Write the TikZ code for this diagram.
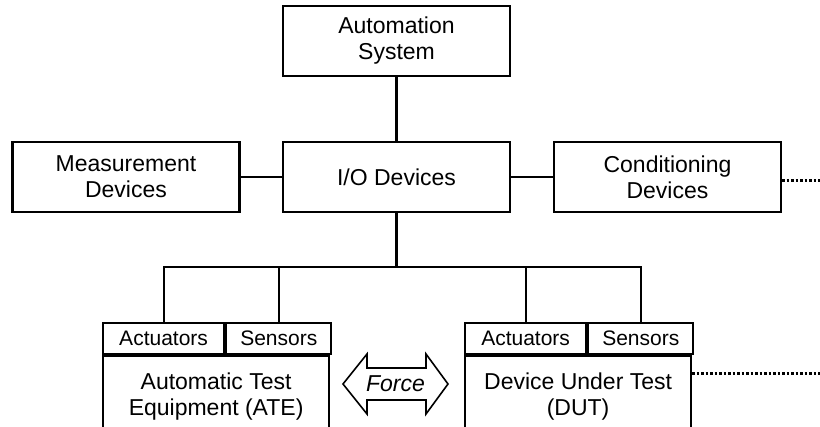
\documentclass[tikz,border=0pt]{standalone}
\usepackage{fontspec}
\setmainfont{Liberation Sans}
\usetikzlibrary{calc}
\tikzset{blk/.style={draw, line width=2.2pt, minimum width=227pt, minimum height=70pt, inner sep=0pt, align=center, font=\fontsize{23}{26}\selectfont},
  cell/.style={draw, line width=2.2pt, minimum height=31pt, inner sep=0pt, font=\fontsize{21}{24}\selectfont},
  wire/.style={line width=2.2pt},
  more/.style={line width=3pt, dash pattern=on 2.5pt off 2pt}}

\begin{document}
\begin{tikzpicture}[x=1pt, y=-1pt]
  \clip (0,0) rectangle (820,427);
  % top row
  \node[blk] (auto) at (396.5,41) {Automation\\System};
  \node[blk] (io) at (396.5,177) {I/O Devices};
  \node[blk] (meas) at (126,177) {Measurement\\Devices};
  \node[blk] (cond) at (667.5,177) {Conditioning\\Devices};
  \draw[wire] (auto) -- (io);
  \draw[wire] (meas) -- (io);
  \draw[wire] (io) -- (cond);
  \coordinate (more1) at (820,181);
  \draw[more] (cond.east |- more1) -- (more1);
  % test stations
  \foreach \n/\x/\t in {ate/102/{Automatic Test\\Equipment (ATE)}, dut/464/{Device Under Test\\(DUT)}} {
    \node[cell, minimum width=121pt, anchor=north west] (\n-act) at (\x,322) {Actuators};
    \node[cell, minimum width=105pt, anchor=north west] (\n-sen) at (\n-act.north east) {Sensors};
    \node[blk, minimum width=226pt, minimum height=80pt, anchor=north west] (\n) at (\n-act.south west) {\t};
  }
  % bus
  \coordinate (bus) at (396.5,267);
  \draw[wire] (io) -- (bus);
  \draw[wire] (ate-act.north) |- (bus) -| (dut-sen.north);
  \draw[wire] (ate-sen.north) -- (ate-sen.north |- bus);
  \draw[wire] (dut-act.north) -- (dut-act.north |- bus);
  \coordinate (more2) at (820,374);
  \draw[more] (dut.east |- more2) -- (more2);
  % force arrow
  \node[inner sep=0pt, font=\fontsize{23}{26}\selectfont\itshape] (force) at (395.5,384) {Force};
  \draw[line width=1.6pt] (force) ++(-52.5,0) -- ++(24,-30) -- ++(0,14) -- ++(59,0) -- ++(0,-14) -- ++(22,30)
    -- ++(-22,30) -- ++(0,-14) -- ++(-59,0) -- ++(0,14) -- cycle;
\end{tikzpicture}
\end{document}
